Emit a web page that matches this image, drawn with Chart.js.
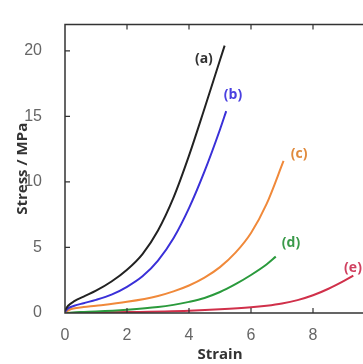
<!DOCTYPE html>
<html>
<head>
<meta charset="utf-8">
<script src="https://cdn.jsdelivr.net/npm/chart.js@4.4.0/dist/chart.umd.min.js"></script>
<style>
  html, body { margin: 0; padding: 0; background: #fff; overflow: hidden; }
  #wrap { width: 380px; height: 364px; }
</style>
</head>
<body>
<div id="wrap"><canvas id="chart" width="380" height="364"></canvas></div>
<script>
// strain / stress pairs
const strainA = [0, 0.1, 0.3, 0.6, 1, 1.5, 2, 2.5, 3, 3.5, 4, 4.5, 5, 5.15]
const stressA = [0.2, 0.55, 0.9, 1.25, 1.7, 2.4, 3.3, 4.5, 6.3, 8.8, 12.0, 15.6, 19.3, 20.4]

const strainB = [0, 0.1, 0.3, 0.6, 1, 1.5, 2, 2.5, 3, 3.5, 4, 4.5, 5, 5.2]
const stressB = [0.1, 0.35, 0.55, 0.75, 1.0, 1.4, 2.0, 2.8, 4.0, 5.7, 8.0, 10.8, 14.0, 15.4]

const strainC = [0, 0.2, 0.6, 1, 2, 3, 3.5, 4, 4.5, 5, 5.5, 6, 6.5, 7.05]
const stressC = [0.05, 0.3, 0.45, 0.55, 0.85, 1.3, 1.65, 2.1, 2.7, 3.5, 4.6, 6.1, 8.3, 11.6]

const strainD = [0, 0.5, 1, 2, 3, 3.5, 4, 4.5, 5, 5.5, 6, 6.5, 6.8]
const stressD = [0, 0.08, 0.12, 0.25, 0.45, 0.62, 0.85, 1.15, 1.6, 2.2, 2.9, 3.7, 4.3]

const strainE = [0, 2, 4, 5, 6, 6.5, 7, 7.5, 8, 8.5, 9, 9.3]
const stressE = [0, 0.07, 0.18, 0.28, 0.43, 0.55, 0.72, 0.98, 1.35, 1.85, 2.45, 2.85]

const seriesNames = ["(a)", "(b)", "(c)", "(d)", "(e)"]
const seriesColors = ["#222222", "#3a30d8", "#f0893a", "#2a9a3c", "#d0304a"]
const labelColors = ["#333333", "#4a40e0", "#e08a3c", "#3a9a4a", "#d04060"]
// where each curve label sits, in strain / stress units
const labelStrain = [4.48, 5.42, 7.55, 7.29, 9.29]
const labelStress = [19.4, 16.6, 12.1, 5.35, 3.44]

const xTicks = [0, 2, 4, 6, 8]
const yTicks = [0, 5, 10, 15, 20]

const pairs = (xs, ys) => xs.map((x, i) => ({ x: x, y: ys[i] }))
const allStrain = [strainA, strainB, strainC, strainD, strainE]
const allStress = [stressA, stressB, stressC, stressD, stressE]

const frame = {
  id: "frame",
  afterDraw(chart) {
    const { ctx, chartArea: a, scales } = chart
    ctx.save()
    ctx.strokeStyle = "#333"
    ctx.lineWidth = 1.5
    ctx.beginPath()
    ctx.moveTo(a.right, a.top)
    ctx.lineTo(a.left, a.top)
    ctx.lineTo(a.left, a.bottom)
    ctx.lineTo(a.right, a.bottom)
    ctx.stroke()

    ctx.lineWidth = 1.2
    ctx.beginPath()
    xTicks.slice(1).forEach(v => {
      const px = scales.x.getPixelForValue(v)
      ctx.moveTo(px, a.bottom)
      ctx.lineTo(px, a.bottom - 5)
      ctx.moveTo(px, a.top)
      ctx.lineTo(px, a.top + 5)
    })
    yTicks.slice(1).forEach(v => {
      const py = scales.y.getPixelForValue(v)
      ctx.moveTo(a.left, py)
      ctx.lineTo(a.left + 5, py)
    })
    ctx.stroke()

    ctx.font = "bold 14px 'Open Sans'"
    ctx.textAlign = "center"
    ctx.textBaseline = "middle"
    seriesNames.forEach((name, i) => {
      ctx.fillStyle = labelColors[i]
      ctx.fillText(name, scales.x.getPixelForValue(labelStrain[i]), scales.y.getPixelForValue(labelStress[i]))
    })
    ctx.restore()
  }
}

new Chart(document.getElementById("chart"), {
  type: "line",
  data: {
    datasets: seriesNames.map((name, i) => ({
      label: name,
      data: pairs(allStrain[i], allStress[i]),
      borderColor: seriesColors[i],
      borderWidth: 2,
      pointRadius: 0,
      fill: false,
      cubicInterpolationMode: "monotone"
    }))
  },
  options: {
    responsive: false,
    animation: false,
    layout: { padding: { top: 12, right: 5, left: 0, bottom: 0 } },
    plugins: {
      legend: { display: false },
      tooltip: { enabled: false }
    },
    scales: {
      x: {
        type: "linear",
        min: 0,
        max: 10,
        afterFit: s => { s.height = 51 },
        afterBuildTicks: s => { s.ticks = xTicks.map(v => ({ value: v })) },
        grid: { display: false },
        border: { display: false },
        ticks: { padding: 5, color: "#666", font: { family: "'Liberation Sans'", size: 16 } },
        title: {
          display: true,
          text: "Strain",
          color: "#333",
          padding: { top: 0, bottom: 0 },
          font: { family: "'Open Sans'", size: 15, weight: "bold" }
        }
      },
      y: {
        min: 0,
        max: 22,
        afterFit: s => { s.width = 65 },
        afterBuildTicks: s => { s.ticks = yTicks.map(v => ({ value: v })) },
        grid: { display: false },
        border: { display: false },
        ticks: { padding: 15, color: "#666", font: { family: "'Liberation Sans'", size: 16 } },
        title: {
          display: true,
          text: "Stress / MPa",
          color: "#333",
          padding: { top: 14, bottom: 0 },
          font: { family: "'Open Sans'", size: 15, weight: "bold" }
        }
      }
    }
  },
  plugins: [frame]
})
</script>
</body>
</html>
